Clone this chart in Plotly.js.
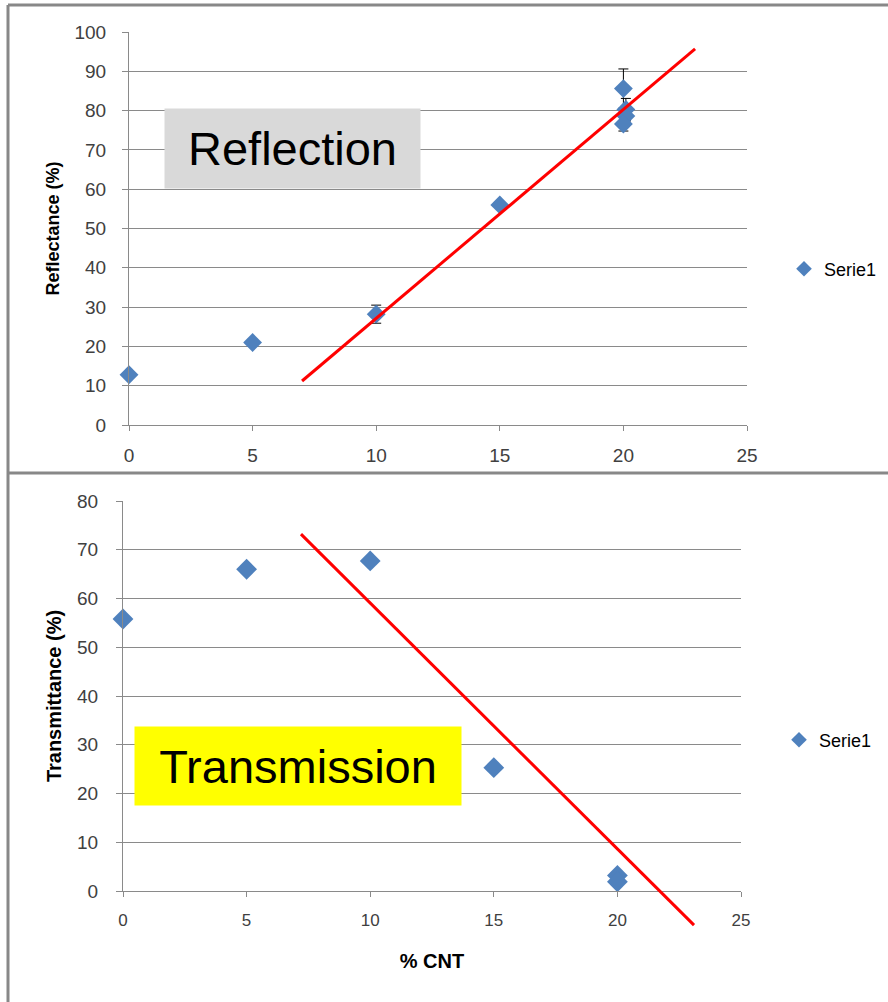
<!DOCTYPE html>
<html>
<head>
<meta charset="utf-8">
<script src="https://cdn.plot.ly/plotly-3.0.1.min.js"></script>
<style>html,body{margin:0;padding:0;background:#fff;}#chart{width:888px;height:1002px;}</style>
</head>
<body>
<div id="chart"></div>
<script>
// ---- data ----
const cntReflection = [0, 5, 10, 15, 20, 20.1, 20.1, 20];
const reflectance = [12.8, 21.0, 28.2, 56.0, 85.6, 80.3, 78.6, 76.6];
const reflectanceErr = [0.5, 0.8, 2.3, 0.6, 5.0, 2.8, 1.5, 1.8];
const reflTrendX = [7.0, 22.9];
const reflTrendY = [11.2, 95.7];

const cntTransmission = [0, 5, 10, 15, 20, 20];
const transmittance = [55.8, 66.0, 67.7, 25.3, 3.2, 1.9];
const transTrendX = [7.2, 23.1];
const transTrendY = [73.2, -7.0];

const xTicks = [0, 5, 10, 15, 20, 25];
const seriesName = 'Serie1';

// ---- geometry helpers (pixels -> paper) ----
const W = 888, H = 1002;
const px = (a, b) => [a / W, b / W];
const py = (top, bottom) => [1 - bottom / H, 1 - top / H];

const gray = '#8a8a8a';
const tickCol = '#404040';
const blue = '#4f81bd';

// bottom plot: 80 at y=501, 0 at y=891
const bTop = 501, bBot = 891, bExt = 945;
const ppu = (bBot - bTop) / 80;
const extMin = 80 - (bExt - bTop) / ppu;

const traces = [
  {x: cntReflection, y: reflectance, type: 'scatter', mode: 'markers', name: seriesName,
   xaxis: 'x', yaxis: 'y', legend: 'legend', cliponaxis: false,
   marker: {symbol: 'diamond', size: 14.5, color: blue},
   error_y: {type: 'data', array: reflectanceErr, color: '#000', thickness: 1, width: 5}},
  {x: reflTrendX, y: reflTrendY, type: 'scatter', mode: 'lines', showlegend: false,
   xaxis: 'x', yaxis: 'y', line: {color: '#ff0000', width: 3}},
  {x: cntTransmission, y: transmittance, type: 'scatter', mode: 'markers', name: seriesName,
   xaxis: 'x2', yaxis: 'y2', legend: 'legend2', cliponaxis: false,
   marker: {symbol: 'diamond', size: 16, color: blue}},
  {x: transTrendX, y: transTrendY, type: 'scatter', mode: 'lines', showlegend: false,
   xaxis: 'x3', yaxis: 'y3', line: {color: '#ff0000', width: 3}}
];

const yTickFont = {family: 'Liberation Sans, Arial, sans-serif', size: 19, color: tickCol};
const xTickFont = {family: 'Liberation Sans Narrow, Liberation Sans, sans-serif', size: 19, color: tickCol};
const titleFont = {family: 'Liberation Sans, Arial, sans-serif', size: 18, color: '#000', weight: 'bold'};

const layout = {
  width: W, height: H,
  margin: {l: 0, r: 0, t: 0, b: 0},
  paper_bgcolor: '#fff', plot_bgcolor: 'rgba(0,0,0,0)',
  showlegend: true,
  xaxis: {domain: px(129, 747), range: [0, 25], tickvals: xTicks, anchor: 'y',
    showgrid: false, zeroline: false, showline: true, linecolor: gray, linewidth: 1,
    ticks: 'outside', ticklen: 5, tickcolor: gray, tickfont: xTickFont, ticklabelstandoff: 8},
  yaxis: {domain: py(32, 425), range: [0, 100], dtick: 10, anchor: 'x',
    showgrid: true, gridcolor: gray, gridwidth: 1, zeroline: false, showline: true, linecolor: gray,
    ticks: 'outside', ticklen: 6, tickcolor: gray, tickfont: yTickFont, ticklabelstandoff: 12,
    title: {text: 'Reflectance (%)', font: titleFont, standoff: 10}},
  xaxis2: {domain: px(123, 741), range: [0, 25], tickvals: xTicks, anchor: 'y2',
    showgrid: false, zeroline: false, showline: true, linecolor: gray, linewidth: 1,
    ticks: 'outside', ticklen: 5, tickcolor: gray, tickfont: {family: 'Liberation Sans, Arial, sans-serif', size: 17, color: tickCol}, ticklabelstandoff: 9,
    title: {text: '% CNT', font: {family: 'Liberation Sans Narrow, Liberation Sans, sans-serif', size: 20, color: '#000', weight: 'bold'}, standoff: 24}},
  yaxis2: {domain: py(bTop, bBot), range: [0, 80], dtick: 10, anchor: 'x2',
    showgrid: true, gridcolor: gray, gridwidth: 1, zeroline: false, showline: true, linecolor: gray,
    ticks: 'outside', ticklen: 6, tickcolor: gray, tickfont: yTickFont, ticklabelstandoff: 14,
    title: {text: 'Transmittance (%)', font: Object.assign({}, titleFont, {size: 20}), standoff: 10}},
  xaxis3: {domain: px(123, 741), range: [0, 25], anchor: 'y3', visible: false, fixedrange: true},
  yaxis3: {domain: py(bTop, bExt), range: [extMin, 80], anchor: 'x3', visible: false, fixedrange: true},
  legend: {x: 784 / W, xanchor: 'left', y: 1 - 269 / H, yanchor: 'middle', itemsizing: 'constant',
    font: {family: 'Liberation Sans, Arial, sans-serif', size: 18, color: '#000'}, bgcolor: 'rgba(0,0,0,0)'},
  legend2: {x: 779 / W, xanchor: 'left', y: 1 - 740 / H, yanchor: 'middle', itemsizing: 'constant',
    font: {family: 'Liberation Sans, Arial, sans-serif', size: 18, color: '#000'}, bgcolor: 'rgba(0,0,0,0)'},
  annotations: [
    {text: 'Reflection', xref: 'paper', yref: 'paper', x: 292.5 / W, y: 1 - 148.5 / H,
     xanchor: 'center', yanchor: 'middle', showarrow: false, width: 255, height: 79, borderpad: 0,
     bgcolor: '#d9d9d9', font: {family: 'Liberation Sans, Arial, sans-serif', size: 47, color: '#000'}},
    {text: 'Transmission', xref: 'paper', yref: 'paper', x: 298 / W, y: 1 - 766 / H,
     xanchor: 'center', yanchor: 'middle', showarrow: false, width: 326, height: 78, borderpad: 0,
     bgcolor: '#ffff00', font: {family: 'Liberation Sans, Arial, sans-serif', size: 47, color: '#000'}}
  ],
  shapes: [
    {type: 'line', xref: 'paper', yref: 'paper', x0: 8 / W, x1: 1, y0: 1 - 5 / H, y1: 1 - 5 / H, line: {color: '#888', width: 3}},
    {type: 'line', xref: 'paper', yref: 'paper', x0: 8 / W, x1: 1, y0: 1 - 473 / H, y1: 1 - 473 / H, line: {color: '#888', width: 3}},
    {type: 'line', xref: 'paper', yref: 'paper', x0: 8 / W, x1: 8 / W, y0: 0, y1: 1 - 5 / H, line: {color: '#888', width: 3}}
  ]
};

Plotly.newPlot('chart', traces, layout, {staticPlot: true, displayModeBar: false});
</script>
</body>
</html>
